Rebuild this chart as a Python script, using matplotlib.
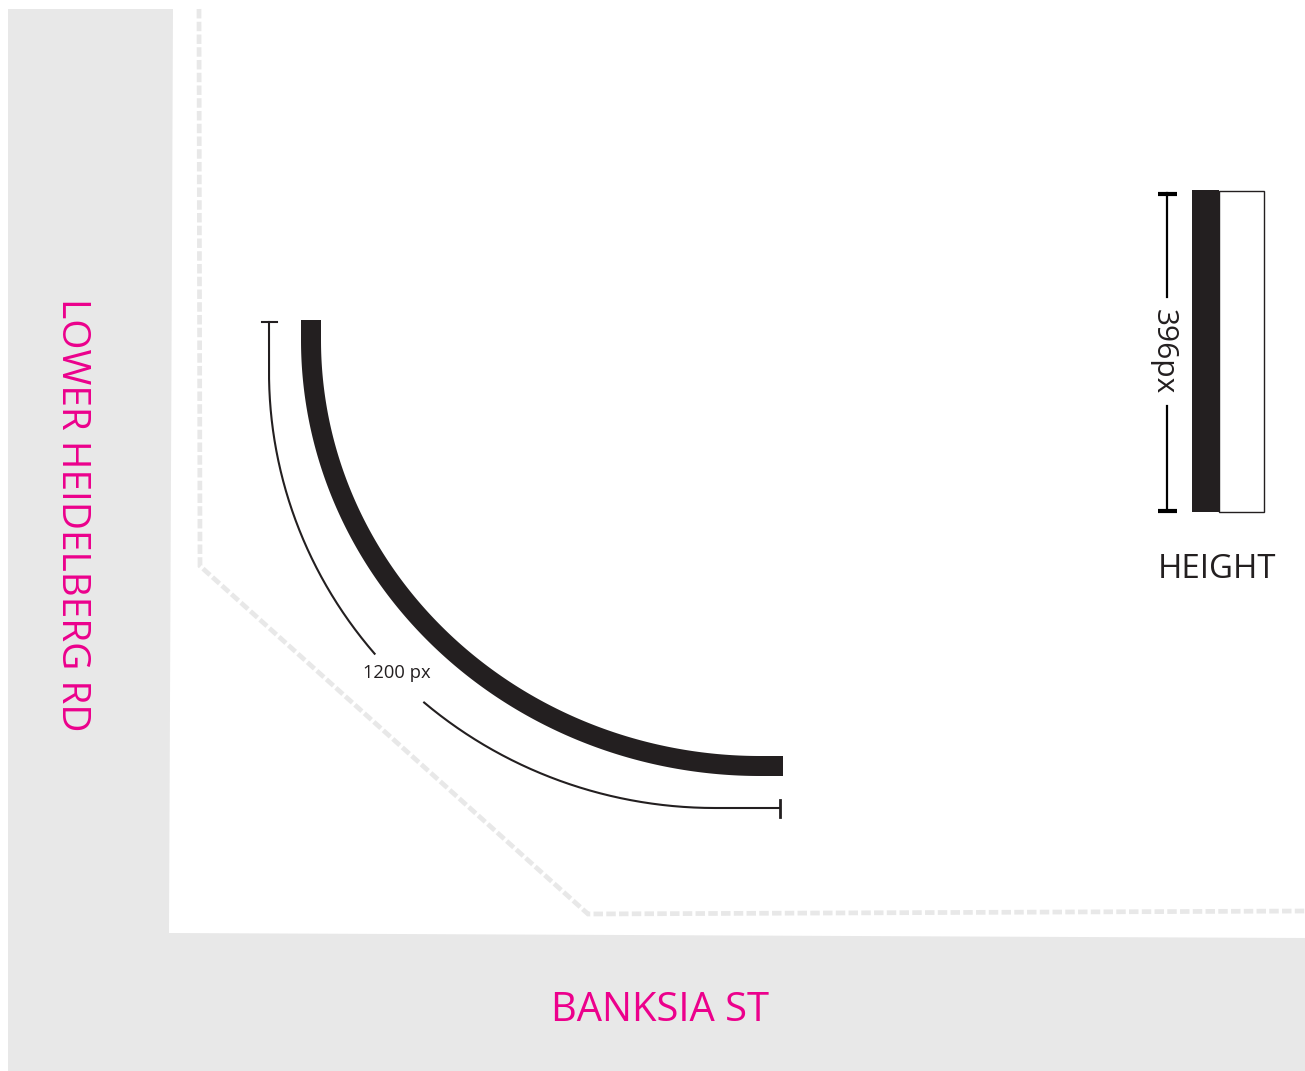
import numpy as np
import matplotlib
matplotlib.use("Agg")
import matplotlib.pyplot as plt
from matplotlib.patches import Polygon, Rectangle

W, H = 1305, 1071
plt.rcParams['font.family'] = ['Open Sans', 'DejaVu Sans']

road_polygon_x = [8, 173, 169, 1305, 1305, 8]
road_polygon_y = [9, 9, 933, 938, 1071, 1071]
dash_x = [199, 200, 588, 1305]
dash_y = [9, 566, 914, 911]
band_x = [1192, 1219, 1264]
band_y = [190, 512]

fig = plt.figure(figsize=(W/100, H/100), dpi=100)
ax = fig.add_axes([0, 0, 1, 1])
ax.set_xlim(0, W); ax.set_ylim(H, 0); ax.axis('off')

ax.add_patch(Polygon(np.column_stack([road_polygon_x, road_polygon_y]), fc='#e8e8e8', ec='none'))
ax.plot(dash_x, dash_y, color='#e8e8e8', lw=3.4, dashes=(2, 0.7), dash_capstyle='butt', dash_joinstyle='miter')

def ell(rx, ry, x0, y0, a0=180, a1=270):
    t = np.radians(np.linspace(a0, a1, 200))
    return x0 + rx*np.cos(t), y0 - ry*np.sin(t)

# thick arc as polygon
xo, yo = ell(459, 436, 760, 340)
xi, yi = ell(439, 416, 760, 340)
ax.add_patch(Polygon(np.column_stack([
    np.r_[[301], xo, [783, 783], xi[::-1], [321]],
    np.r_[[320], yo, [776, 756], yi[::-1], [320]]]), fc='#231f20', ec='none'))

# thin dimension arc
x, y = ell(446, 436, 715, 372)
x = np.r_[269, x, 780]; y = np.r_[322, y, 808]
mask = ~((y > 648) & (x < 423) & (x > 375))
xa = np.where(mask, x, np.nan); ya = np.where(mask, y, np.nan)
ax.plot(xa, ya, color='#231f20', lw=1.5)
ax.plot([262, 277], [322, 322], color='#231f20', lw=1.5)
ax.plot([780, 780], [800, 817], color='#231f20', lw=2)
ax.text(397, 673, '1200 px', ha='center', va='center', fontsize=13.2, color='#231f20')

# height band
ax.add_patch(Rectangle((band_x[1], band_y[0] + 1), band_x[2]-band_x[1], band_y[1]-band_y[0] - 1, fc='white', ec='#231f20', lw=1))
ax.add_patch(Rectangle((band_x[0], band_y[0]), band_x[1]-band_x[0], band_y[1]-band_y[0], fc='#231f20', ec='none'))
ax.plot([1167, 1167], [193, 297], color='black', lw=1.6)
ax.plot([1167, 1167], [406, 510], color='black', lw=1.6)
ax.plot([1158, 1177], [193.5, 193.5], color='black', lw=3, solid_capstyle='butt')
ax.plot([1158, 1177], [510.5, 510.5], color='black', lw=3, solid_capstyle='butt')
ax.text(1163, 352, '396px', rotation=270, ha='center', va='center', fontsize=21.5, color='#231f20')
ax.text(1217, 570, 'HEIGHT', ha='center', va='center', fontsize=23.8, color='#231f20')

ax.text(72, 515, 'LOWER HEIDELBERG RD', rotation=270, ha='center', va='center', fontsize=28, color='#ec008c')
ax.text(660, 1011, 'BANKSIA ST', ha='center', va='center', fontsize=28.8, color='#ec008c')

fig.savefig('out.png', dpi=100, facecolor='white')
